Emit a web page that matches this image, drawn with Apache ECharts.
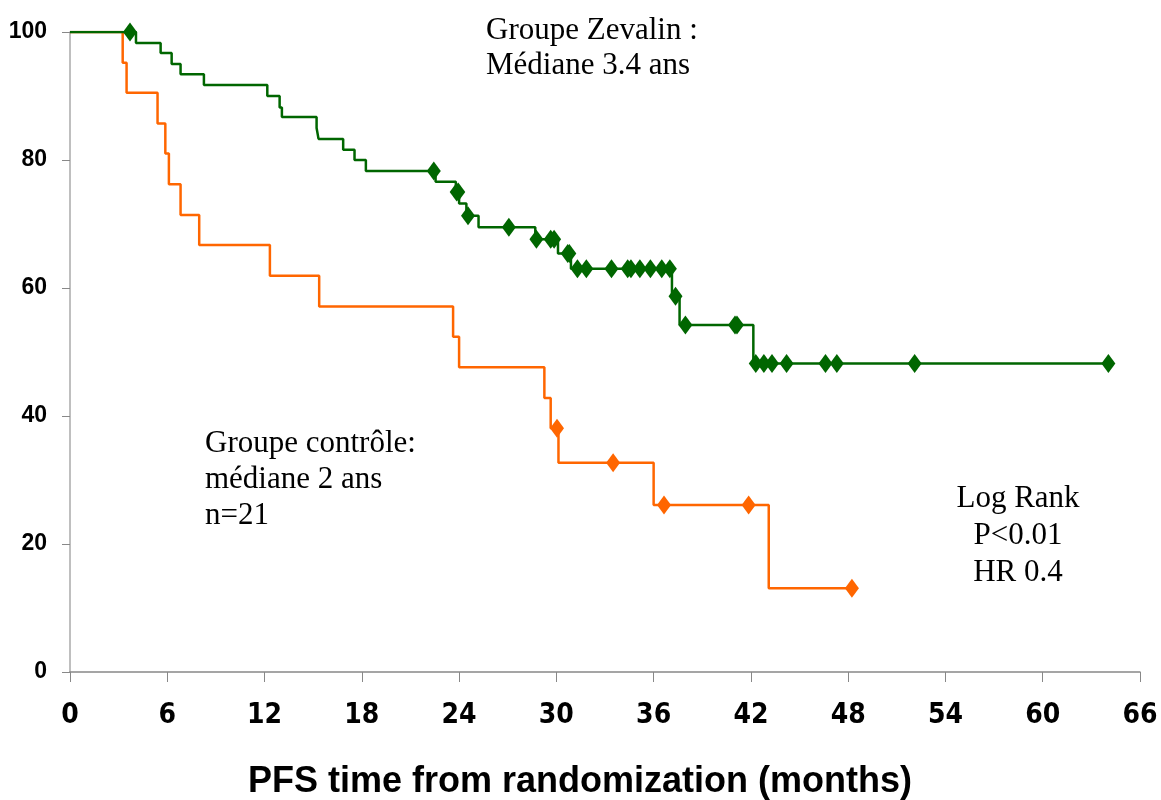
<!DOCTYPE html>
<html>
<head>
<meta charset="utf-8">
<script src="https://cdn.jsdelivr.net/npm/echarts@6/dist/echarts.min.js"></script>
<style>html,body{margin:0;padding:0;background:#fff}#c{width:1161px;height:800px}</style>
</head>
<body>
<div id="c"></div>
<script>
// Zevalin group: event times (months) and survival (%)
const zevTimes = [0, 4.07, 5.59, 6.27, 6.82, 8.26, 12.17, 12.93, 13.07, 15.21, 15.33, 16.85, 17.55, 18.25, 22.55, 23.8, 24.0, 24.45, 25.2, 28.7, 30.1, 30.9, 37.13, 37.6, 42.15, 64.05];
const zevSurv  = [100, 98.3, 96.7, 95.0, 93.4, 91.7, 90.0, 88.2, 86.7, 85.0, 83.3, 81.6, 80.0, 78.3, 76.6, 75.0, 73.2, 71.3, 69.5, 67.6, 65.4, 63.0, 58.7, 54.2, 48.2, 48.2];
// Zevalin censored marks
const zevCensTimes = [3.7, 22.44, 23.85, 23.95, 24.55, 27.07, 28.77, 29.65, 29.86, 30.7, 30.8, 31.3, 31.85, 33.4, 34.4, 34.6, 35.15, 35.8, 36.5, 37.0, 37.35, 37.96, 41.02, 41.14, 42.3, 42.8, 43.3, 44.2, 46.6, 47.3, 52.1, 64.05];
const zevCensSurv  = [100, 78.3, 75.0, 75.0, 71.3, 69.5, 67.6, 67.6, 67.6, 65.4, 65.4, 63.0, 63.0, 63.0, 63.0, 63.0, 63.0, 63.0, 63.0, 63.0, 58.7, 54.2, 54.2, 54.2, 48.2, 48.2, 48.2, 48.2, 48.2, 48.2, 48.2, 48.2];
// Control group
const ctlTimes = [0, 3.25, 3.49, 5.4, 5.88, 6.1, 6.82, 7.97, 12.33, 15.37, 23.63, 24.0, 29.26, 29.65, 30.13, 36.0, 43.1, 48.23];
const ctlSurv  = [100, 95.2, 90.5, 85.7, 81.0, 76.2, 71.4, 66.7, 61.9, 57.1, 52.4, 47.6, 42.8, 38.1, 32.7, 26.1, 13.1, 13.1];
const ctlCensTimes = [30.04, 33.5, 36.64, 41.86, 48.23];
const ctlCensSurv  = [38.1, 32.7, 26.1, 26.1, 13.1];
// Axes
const xTicks = [0, 6, 12, 18, 24, 30, 36, 42, 48, 54, 60, 66];
const yTicks = [0, 20, 40, 60, 80, 100];
const xTitle = 'PFS time from randomization (months)';
const zevText = ['Groupe Zevalin :', 'Médiane 3.4 ans'];
const ctlText = ['Groupe contrôle:', 'médiane 2 ans', 'n=21'];
const statText = ['Log Rank', 'P<0.01', 'HR 0.4'];

const zip = (a, b) => a.map((v, i) => [v, b[i]]);
const GREEN = '#006600', ORANGE = '#FF6600';
const serif = '"Liberation Serif", "Times New Roman", serif';

const chart = echarts.init(document.getElementById('c'), null, {renderer: 'canvas'});
const graphics = [];
zevText.forEach((t, i) => graphics.push({type: 'text', left: 486, top: 15 + i * 35, style: {text: t, font: '31px ' + serif, fill: '#000'}}));
ctlText.forEach((t, i) => graphics.push({type: 'text', left: 205, top: 428 + i * 36, style: {text: t, font: '31px ' + serif, fill: '#000'}}));
statText.forEach((t, i) => graphics.push({type: 'text', x: 1018, y: 483 + i * 37, style: {text: t, font: '31px ' + serif, fill: '#000', textAlign: 'center'}}));

chart.setOption({
  animation: false,
  backgroundColor: '#fff',
  grid: {left: 70, right: 21, top: 32, bottom: 128, containLabel: false, outerBoundsMode: 'none'},
  xAxis: {
    type: 'value', min: xTicks[0], max: xTicks[xTicks.length - 1], interval: 6,
    axisLine: {show: true, lineStyle: {color: '#888', width: 1.5}},
    axisTick: {show: true, length: 10, lineStyle: {color: '#888'}},
    splitLine: {show: false},
    axisLabel: {margin: 30, fontSize: 28, fontWeight: 'bold', fontFamily: '"DejaVu Sans Condensed", "Liberation Sans Narrow", sans-serif', color: '#000'},
    name: xTitle, nameLocation: 'middle', nameGap: 92,
    nameTextStyle: {fontSize: 36, fontWeight: 'bold', fontFamily: '"Liberation Sans", Arial, sans-serif', color: '#000', padding: [0, 50, 0, 0]}
  },
  yAxis: {
    type: 'value', min: yTicks[0], max: yTicks[yTicks.length - 1], interval: 20,
    axisLine: {show: true, lineStyle: {color: '#aaa', width: 1.5}},
    axisTick: {show: true, length: 8, lineStyle: {color: '#888'}},
    splitLine: {show: false},
    axisLabel: {margin: 23, fontSize: 23, fontWeight: 'bold', fontFamily: '"Liberation Sans", Arial, sans-serif', color: '#000'}
  },
  series: [
    {type: 'line', step: 'end', data: zip(ctlTimes, ctlSurv), showSymbol: false, symbol: 'none', lineStyle: {color: ORANGE, width: 2.5}, z: 2},
    {type: 'line', step: 'end', data: zip(zevTimes, zevSurv), showSymbol: false, symbol: 'none', lineStyle: {color: GREEN, width: 2.5}, z: 2},
    {type: 'scatter', data: zip(ctlCensTimes, ctlCensSurv), symbol: 'diamond', symbolSize: [14, 19], itemStyle: {color: ORANGE, opacity: 1}, z: 3},
    {type: 'scatter', data: zip(zevCensTimes, zevCensSurv), symbol: 'diamond', symbolSize: [14, 19], itemStyle: {color: GREEN, opacity: 1}, z: 3}
  ],
  graphic: graphics
});
</script>
</body>
</html>
